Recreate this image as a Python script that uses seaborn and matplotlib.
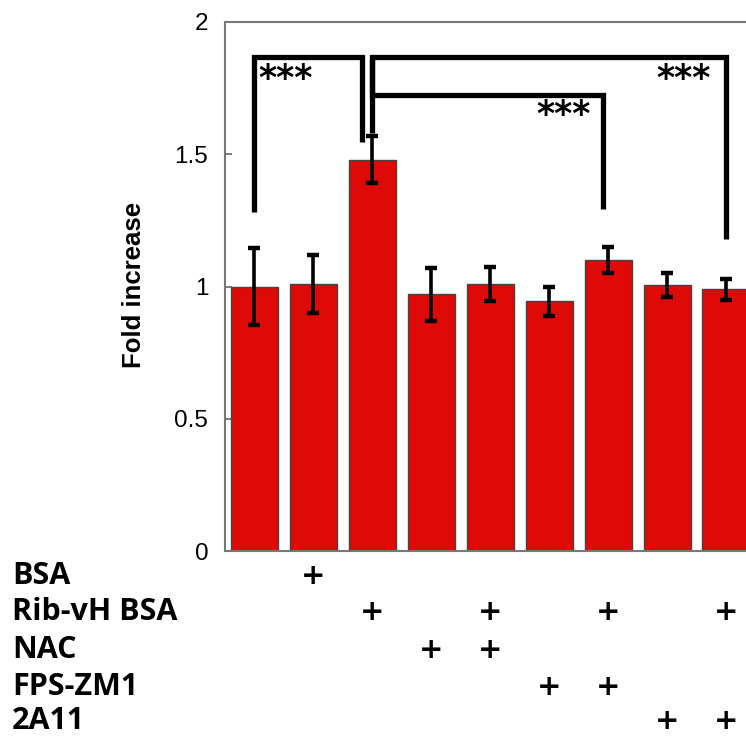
import matplotlib
matplotlib.use("Agg")
import matplotlib.pyplot as plt
import matplotlib.transforms as mtransforms
import numpy as np
import pandas as pd
import seaborn as sns

# Groups (one bar each) and measured fold increase with error
groups = ["G1", "G2", "G3", "G4", "G5", "G6", "G7", "G8", "G9"]
fold_increase = [1.00, 1.01, 1.48, 0.97, 1.01, 0.945, 1.10, 1.005, 0.99]
fold_error = [0.145, 0.11, 0.09, 0.10, 0.065, 0.055, 0.05, 0.045, 0.04]

# Treatment matrix shown under the bars
treatments = ["BSA", "Rib-vH BSA", "NAC", "FPS-ZM1", "2A11"]
treatment_groups = {
    "BSA": [1],
    "Rib-vH BSA": [2, 4, 6, 8],
    "NAC": [3, 4],
    "FPS-ZM1": [5, 6],
    "2A11": [7, 8],
}

# Significance brackets: (left x, left leg bottom, right x, right leg bottom, bar height, label)
brackets = [
    (0.0, 1.28, 1.82, 1.546, 1.868, "***"),
    (2.0, 1.58, 8.0, 1.18, 1.868, "***"),
    (2.0, 1.86, 5.92, 1.293, 1.724, "***"),
]
star_positions = [(0.53, 1.785), (7.28, 1.785), (5.25, 1.65)]

y_ticks = [0, 0.5, 1, 1.5, 2]
y_tick_labels = ["0", "0.5", "1", "1.5", "2"]

sns.set_theme(style="white")
plt.rcParams["font.family"] = ["Liberation Sans", "DejaVu Sans"]
plt.rcParams["text.color"] = "black"
plt.rcParams["axes.labelcolor"] = "black"
plt.rcParams["ytick.labelcolor"] = "black"

W, H = 746, 736
fig = plt.figure(figsize=(W / 100, H / 100), dpi=100)
ax_left, ax_right, ax_top, ax_bottom = 225, 755.5, 22, 551
ax = fig.add_axes([ax_left / W, (H - ax_bottom) / H,
                   (ax_right - ax_left) / W, (ax_bottom - ax_top) / H])

df = pd.DataFrame({"group": groups, "fold": fold_increase, "err": fold_error})
sns.barplot(data=df, x="group", y="fold", color="#DD0A07", saturation=1,
            width=0.8, edgecolor="#444444", linewidth=1.0, errorbar=None, ax=ax)
ax.errorbar(np.arange(len(groups)), df["fold"], yerr=df["err"], fmt="none",
            ecolor="black", elinewidth=2.6, capsize=4.5, capthick=3.2, zorder=3)

ax.set_xlim(-0.5, len(groups) - 0.5)
ax.set_ylim(0, 2)
ax.set_yticks(y_ticks)
ax.set_yticklabels(y_tick_labels, fontsize=17.5, color="black")
ax.set_xticks([])
ax.set_xlabel("")
ax.set_ylabel("Fold increase", fontsize=18.5, fontweight="bold", color="black")
ax.yaxis.set_label_coords(-0.149, 0.503)
ax.tick_params(axis="y", direction="in", length=5, width=1.2, color="#666666",
               pad=12, left=True)
for side in ["left", "bottom", "top", "right"]:
    ax.spines[side].set_color("#777777")
    ax.spines[side].set_linewidth(1.5)

# Significance brackets
for x0, y0, x1, y1, yt, label in brackets:
    ax.plot([x0, x0, x1, x1], [y0, yt, yt, y1], color="black", lw=3.8,
            solid_joinstyle="miter", solid_capstyle="butt", zorder=4)
for (sx, sy) in star_positions:
    ax.text(sx, sy, "***", ha="center", va="center", fontsize=25,
            fontweight="bold", family="DejaVu Sans", color="black")

# Treatment rows below the axis
row_y = [576, 612, 650, 687, 721]
trans = mtransforms.blended_transform_factory(ax.transData, fig.transFigure)
for name, yp in zip(treatments, row_y):
    fy = (H - yp) / H
    fig.text(12 / W, fy, name, ha="left", va="center", fontsize=22,
             fontweight="bold", family="Open Sans", color="black")
    for gi in treatment_groups[name]:
        ax.text(gi, fy, "+", transform=trans, ha="center", va="center",
                fontsize=21, fontweight="bold", family="DejaVu Sans",
                color="black", clip_on=False)

fig.savefig("out.png", dpi=100)
